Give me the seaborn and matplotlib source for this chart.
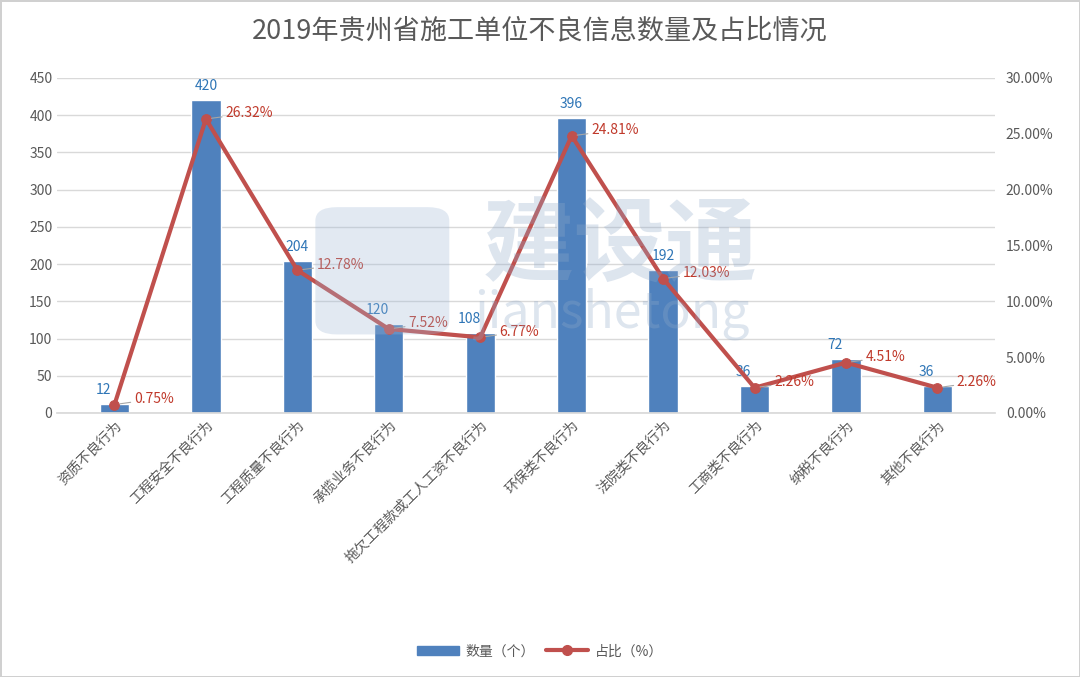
import matplotlib
matplotlib.use('Agg')
import matplotlib.pyplot as plt
import matplotlib.ticker as mticker
from matplotlib.patches import Patch, FancyBboxPatch
from matplotlib.lines import Line2D
import seaborn as sns
import pandas as pd
import numpy as np

# 数据
categories = ['资质不良行为', '工程安全不良行为', '工程质量不良行为', '承揽业务不良行为',
              '拖欠工程款或工人工资不良行为', '环保类不良行为', '法院类不良行为',
              '工商类不良行为', '纳税不良行为', '其他不良行为']
counts = [12, 420, 204, 120, 108, 396, 192, 36, 72, 36]
shares = [0.75, 26.32, 12.78, 7.52, 6.77, 24.81, 12.03, 2.26, 4.51, 2.26]

sns.set_theme(style='white')
plt.rcParams['font.family'] = ['Noto Sans CJK SC', 'DejaVu Sans']

BAR = '#4F81BD'
LINE = '#C0504D'
GREY = '#595959'

df = pd.DataFrame({'cat': categories, 'count': counts, 'share': shares})

fig = plt.figure(figsize=(10.8, 6.77), dpi=100)
fig.patch.set_edgecolor('#d0d0d0')
fig.patch.set_linewidth(2)

# 水印
fig.patches.append(FancyBboxPatch((0.296, 0.51), 0.116, 0.18,
                                  boxstyle='round,pad=0.004,rounding_size=0.02',
                                  transform=fig.transFigure, facecolor='#9fb8d6',
                                  edgecolor='none', alpha=0.3, zorder=0))
fig.text(0.574, 0.634, '建设通', fontsize=66, color='#8fa9c9', alpha=0.3,
         ha='center', va='center', fontweight='bold', zorder=0)
fig.text(0.567, 0.537, 'jianshetong', fontsize=36, color='#8fa9c9', alpha=0.3,
         ha='center', va='center', zorder=0)

ax = fig.add_axes([0.053, 0.39, 0.868, 0.495])
ax.patch.set_alpha(0)

sns.barplot(data=df, x='cat', y='count', color=BAR, width=0.32, saturation=1, ax=ax)
ax.set_ylim(0, 450)
ax.set_yticks(np.arange(0, 451, 50))
ax.grid(axis='y', color='#d9d9d9', linewidth=1)
ax.set_axisbelow(True)
for s in ['top', 'right', 'left']:
    ax.spines[s].set_visible(False)
ax.spines['bottom'].set_color('#d9d9d9')
ax.set_xlabel('')
ax.set_ylabel('')
ax.tick_params(axis='y', colors=GREY, labelsize=10, length=0)
ax.tick_params(axis='x', colors=GREY, labelsize=10, length=0)
ax.set_xticks(range(len(categories)))
ax.set_xticklabels(categories, rotation=45, ha='right', rotation_mode='anchor', color=GREY)

for i, v in enumerate(counts):
    dx = -8 if v < 150 else 0
    ax.annotate(str(v), (i, v), xytext=(dx, 5), textcoords='offset points',
                ha='center', va='bottom', color='#2E75B6', fontsize=10)

ax2 = ax.twinx()
sns.lineplot(x=np.arange(len(categories)), y=shares, ax=ax2, color=LINE, linewidth=3,
             marker='o', markersize=7, markeredgecolor=LINE, markerfacecolor=LINE)
ax2.set_ylim(0, 30)
ax2.set_yticks(np.arange(0, 31, 5))
ax2.yaxis.set_major_formatter(mticker.FuncFormatter(lambda v, p: f'{v:.2f}%'))
ax2.tick_params(axis='y', colors=GREY, labelsize=10, length=0, pad=8)
for s in ['top', 'right', 'left', 'bottom']:
    ax2.spines[s].set_visible(False)
ax2.set_ylabel('')
ax2.grid(False)

for i, v in enumerate(shares):
    ax2.annotate(f'{v:.2f}%', (i, v), xytext=(14, 4), textcoords='offset points',
                 ha='left', va='center', color='#C0392B', fontsize=10,
                 arrowprops=dict(arrowstyle='-', color='#a6a6a6', lw=0.8,
                                 shrinkA=0, shrinkB=4))

fig.text(0.5, 0.955, '2019年贵州省施工单位不良信息数量及占比情况', ha='center', va='center',
         fontsize=19.5, color=GREY)

handles = [Patch(facecolor=BAR, edgecolor=BAR),
           Line2D([0], [0], color=LINE, lw=3, marker='o', markersize=7)]
fig.legend(handles, ['数量（个）', '占比（%）'], loc='center', bbox_to_anchor=(0.5, 0.038),
           ncol=2, frameon=False, fontsize=10, labelcolor=GREY, handlelength=3,
           columnspacing=0.8, handletextpad=0.5)

fig.savefig('out.png', dpi=100)
